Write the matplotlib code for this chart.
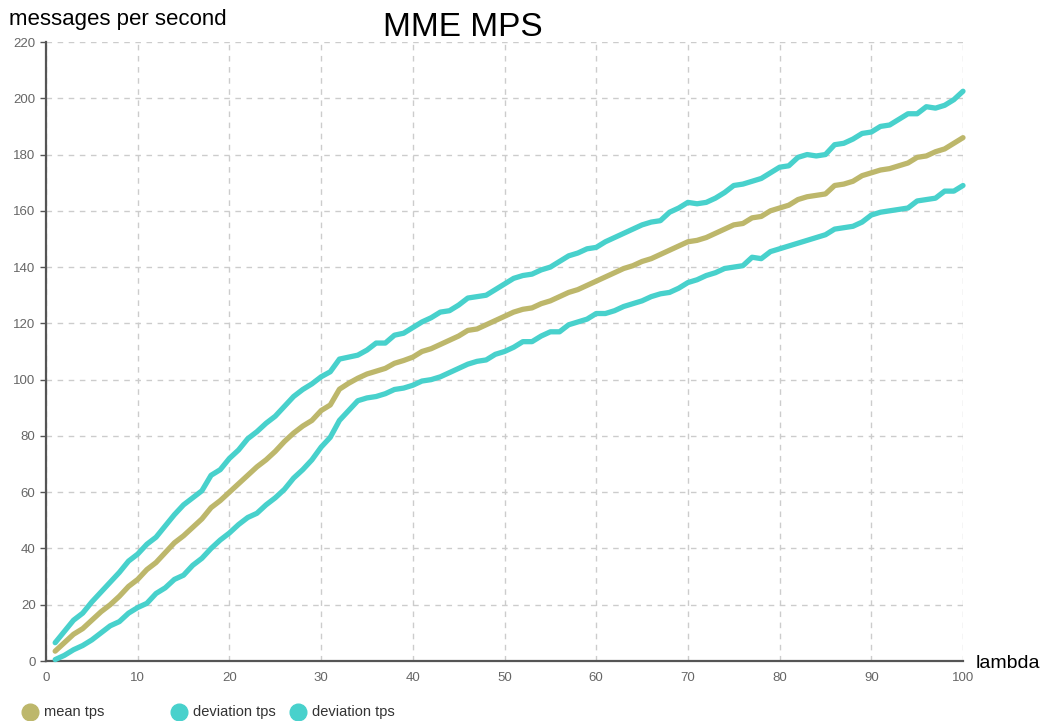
import matplotlib
matplotlib.use("Agg")
import matplotlib.pyplot as plt
from matplotlib.lines import Line2D

lam = list(range(1, 101))

mean_tps = [3.5, 6.5, 9.5, 11.5, 14.5, 17.5, 20, 23, 26.5, 29,
            32.5, 35, 38.5, 42, 44.5, 47.5, 50.5, 54.5, 57, 60,
            63, 66, 69, 71.5, 74.5, 78, 81, 83.5, 85.5, 89,
            91, 96.6, 98.7, 100.5, 102, 103, 104, 105.8, 106.8, 108,
            110, 111, 112.5, 114, 115.5, 117.5, 118, 119.5, 121, 122.5,
            124, 125, 125.5, 127, 128, 129.5, 131, 132, 133.5, 135,
            136.5, 138, 139.5, 140.5, 142, 143, 144.5, 146, 147.5, 149,
            149.5, 150.5, 152, 153.5, 155, 155.5, 157.5, 158, 160, 161,
            162, 164, 165, 165.5, 166, 169, 169.5, 170.5, 172.5, 173.5,
            174.5, 175, 176, 177, 179, 179.5, 181, 182, 184, 186]

upper_tps = [6.5, 10.5, 14.5, 17, 21, 24.5, 28, 31.5, 35.5, 38,
             41.5, 44, 48, 52, 55.5, 58, 60.5, 66, 68, 72,
             75, 79, 81.5, 84.5, 87, 90.5, 94, 96.5, 98.5, 101,
             102.8, 107.3, 108, 108.7, 110.5, 113, 113, 115.8, 116.5, 118.5,
             120.5, 122, 124, 124.5, 126.5, 129, 129.5, 130, 132, 134,
             136, 137, 137.5, 139, 140, 142, 144, 145, 146.5, 147,
             149, 150.5, 152, 153.5, 155, 156, 156.5, 159.5, 161, 163,
             162.5, 163, 164.5, 166.5, 169, 169.5, 170.5, 171.5, 173.5, 175.5,
             176, 179, 180, 179.5, 180, 183.5, 184, 185.5, 187.5, 188,
             190, 190.5, 192.5, 194.5, 194.5, 197, 196.5, 197.5, 199.5, 202.5]

lower_tps = [0.5, 2, 4, 5.5, 7.5, 10, 12.5, 14, 17, 19,
             20.5, 24, 26, 29, 30.5, 34, 36.5, 40, 43, 45.5,
             48.5, 51, 52.5, 55.5, 58, 61, 65, 68, 71.5, 76,
             79.5, 85.5, 89, 92.5, 93.5, 94, 95, 96.5, 97, 98,
             99.5, 100, 101, 102.5, 104, 105.5, 106.5, 107, 109, 110,
             111.5, 113.5, 113.5, 115.5, 117, 117, 119.5, 120.5, 121.5, 123.5,
             123.5, 124.5, 126, 127, 128, 129.5, 130.5, 131, 132.5, 134.5,
             135.5, 137, 138, 139.5, 140, 140.5, 143.5, 143, 145.5, 146.5,
             147.5, 148.5, 149.5, 150.5, 151.5, 153.5, 154, 154.5, 156, 158.5,
             159.5, 160, 160.5, 161, 163.5, 164, 164.5, 167, 167, 169]

series_labels = ["mean tps", "deviation tps", "deviation tps"]
series_colors = ["#bdb76b", "#48d1cc", "#48d1cc"]

plt.rcParams['font.family'] = ['Liberation Sans', 'DejaVu Sans']

fig = plt.figure(figsize=(10.44, 7.21), dpi=100)
ax = fig.add_axes([46 / 1044, 1 - 661 / 721, 917 / 1044, 619 / 721])

for ys, color in zip([upper_tps, mean_tps, lower_tps], [series_colors[1], series_colors[0], series_colors[2]]):
    ax.plot(lam, ys, color=color, linewidth=3.8, solid_joinstyle='round',
            solid_capstyle='round', zorder=3, clip_on=False)

ax.set_xlim(0, 100)
ax.set_ylim(0, 220)
ax.set_xticks(range(0, 101, 10))
ax.set_yticks(range(0, 221, 20))
ax.grid(True, color="#cccccc", linestyle=(0, (4, 4)), linewidth=1)
ax.set_axisbelow(True)
for side in ["top", "right"]:
    ax.spines[side].set_visible(False)
for side in ["left", "bottom"]:
    ax.spines[side].set_color("#555555")
    ax.spines[side].set_linewidth(1.6)
ax.tick_params(axis='both', colors="#555555", labelcolor="#666666", labelsize=9.5, length=4, width=1)
ax.tick_params(axis='x', length=0, pad=8)

fig.text(463 / 1044, 1 - 28 / 721, "MME MPS", fontsize=24, ha='center', va='center')
fig.text(9 / 1044, 1 - 19 / 721, "messages per second", fontsize=16, ha='left', va='center')
fig.text(976 / 1044, 1 - 663 / 721, "lambda", fontsize=14, ha='left', va='center')

legend_x = [30, 179, 298]
for x, label, color in zip(legend_x, series_labels, series_colors):
    fig.add_artist(Line2D([x / 1044], [1 - 712 / 721], marker='o', markersize=12,
                          color=color, linestyle='none', transform=fig.transFigure))
    fig.text((x + 14) / 1044, 1 - 712 / 721, label, fontsize=10.5, color="#333333",
             ha='left', va='center')

fig.savefig("out.png", dpi=100)
